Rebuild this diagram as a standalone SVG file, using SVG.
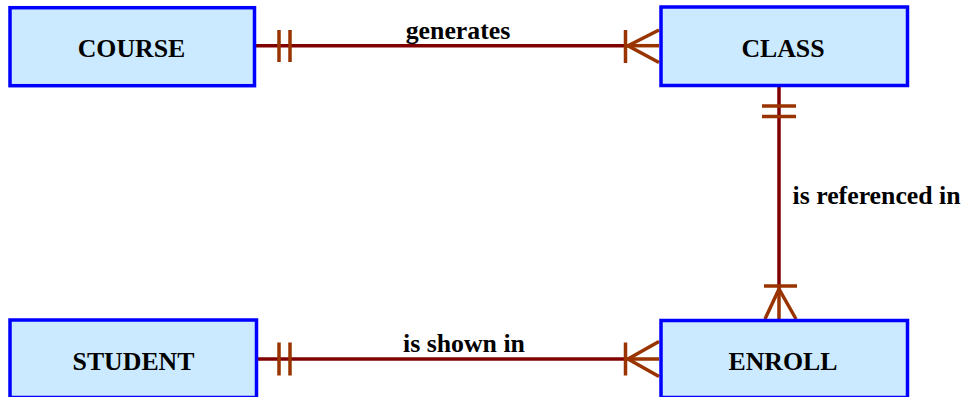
<svg xmlns="http://www.w3.org/2000/svg" width="964" height="397" viewBox="0 0 964 397">
<style>
.box{fill:#cbeaff;stroke:#0000ff;stroke-width:3.5}
.nm{font-family:"Liberation Serif","Times New Roman",serif;font-weight:bold;font-size:25.8px;fill:#000;text-anchor:middle}
.lb{font-family:"Liberation Serif","Times New Roman",serif;font-weight:bold;font-size:25.8px;fill:#000}
.ln{stroke:#800000;stroke-width:3.5;fill:none}
.mk{stroke:#993300;stroke-width:3.5;fill:none}
</style>
<rect width="964" height="397" fill="#fff"/>
<g id="connectors">
  <g id="c-generates">
    <line class="ln" x1="256" y1="45.7" x2="628" y2="45.7"/>
    <line class="mk" x1="279" y1="30" x2="279" y2="62"/>
    <line class="mk" x1="290" y1="30" x2="290" y2="62"/>
    <line class="mk" x1="625.5" y1="30" x2="625.5" y2="63"/>
    <polyline class="mk" points="659,30 628,45.7 659,62.5"/>
    <line class="mk" x1="628" y1="45.7" x2="659" y2="45.7"/>
    <text class="lb" x="458" y="38.5" text-anchor="middle">generates</text>
  </g>
  <g id="c-referenced">
    <line class="ln" x1="779" y1="87" x2="779" y2="289"/>
    <line class="mk" x1="762" y1="106" x2="796" y2="106"/>
    <line class="mk" x1="762" y1="116.5" x2="796" y2="116.5"/>
    <line class="mk" x1="764" y1="286" x2="797" y2="286"/>
    <polyline class="mk" points="765,319 779,289 796,319"/>
    <line class="mk" x1="779" y1="289" x2="779" y2="319"/>
    <text class="lb" x="792.5" y="203.5">is referenced in</text>
  </g>
  <g id="c-shown">
    <line class="ln" x1="258" y1="359" x2="628" y2="359"/>
    <line class="mk" x1="279" y1="342.5" x2="279" y2="375.5"/>
    <line class="mk" x1="290" y1="342.5" x2="290" y2="375.5"/>
    <line class="mk" x1="625.5" y1="342.5" x2="625.5" y2="375.5"/>
    <polyline class="mk" points="659,341.5 628,359 659,376.5"/>
    <line class="mk" x1="628" y1="359" x2="659" y2="359"/>
    <text class="lb" x="464" y="351.5" text-anchor="middle">is shown in</text>
  </g>
</g>
<g id="course">
  <rect class="box" x="10" y="7.7" width="244.5" height="78"/>
  <text class="nm" x="131.5" y="56.5">COURSE</text>
</g>
<g id="class">
  <rect class="box" x="661" y="7" width="246.5" height="78.5"/>
  <text class="nm" x="783" y="57">CLASS</text>
</g>
<g id="student">
  <rect class="box" x="10" y="320" width="246.5" height="77.5"/>
  <text class="nm" x="133.5" y="369.5">STUDENT</text>
</g>
<g id="enroll">
  <rect class="box" x="661" y="320.5" width="246.5" height="77"/>
  <text class="nm" x="783" y="370">ENROLL</text>
</g>
</svg>
